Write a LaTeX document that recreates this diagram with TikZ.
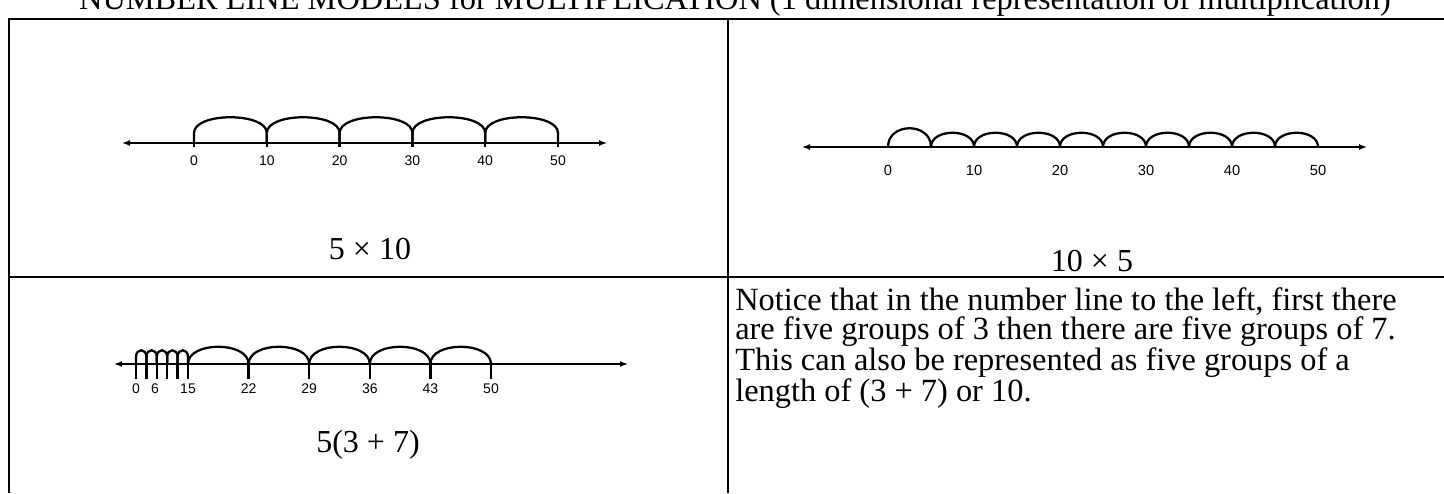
\documentclass[tikz,border=0pt]{standalone}
\usepackage{fontspec}
\setmainfont{Liberation Serif}
\newfontfamily\labelfont{Liberation Sans}
\usetikzlibrary{arrows.meta, calc}
\tikzset{
	rule/.style={line width=1.6pt},
	axis/.style={{Latex[length=6pt,width=4.5pt]}-{Latex[length=6pt,width=4.5pt]}, line width=1.1pt},
	hop/.style={line width=1.7pt},
	ticklabel/.style={font=\labelfont\fontsize{10.5}{12}\selectfont, inner sep=0pt},
	bigticklabel/.style={font=\labelfont\fontsize{11}{13}\selectfont, inner sep=0pt},
	caption/.style={font=\fontsize{24}{28}\selectfont, inner sep=0pt},
	note/.style={font=\fontsize{24.3}{21.9}\selectfont, align=left, inner sep=0pt},
}
\begin{document}
\begin{tikzpicture}[x=0.75pt, y=-0.75pt]
		\useasboundingbox (0,0) rectangle (1444,493);
		\node[caption, font=\fontsize{24.3}{28}\selectfont, anchor=base] (title) at (735,9) {NUMBER LINE MODELS for MULTIPLICATION (1 dimensional representation of multiplication)};
		\draw[rule] (8,19) -- (1444,19);
		\draw[rule] (9,19) -- (9,493);
		\draw[rule] (728,19) -- (728,493);
		\draw[rule] (9,277) -- (1444,277);
		\foreach \n [count=\i from 0] in {0,10,20,30,40,50} {
			\coordinate (a\i) at ({194+72.8*\i},143);
			\node[ticklabel] (a\i-lab) at ({194+72.8*\i},161) {\n};
		}
		\draw[axis] (122,143) -- (607,143);
		\foreach \i in {0,...,5} \draw[hop] (a\i) -- ++(0,4);
		\foreach \i [evaluate=\i as \j using {int(\i+1)}] in {0,...,4}
			\draw[hop] (a\i) -- ++(0,-10) .. controls +(0,-21) and +(0,-21) .. ($(a\j)+(0,-10)$) -- (a\j);
		\node[caption] (fivetens) at (370,249) {5 × 10};
		\foreach \i in {0,...,10} \coordinate (b\i) at ({888+43*\i},147);
		\draw[axis] (802,147) -- (1367,147);
		\draw[hop] (b0) .. controls +(0,-25) and +(0,-25) .. (b1);
		\foreach \i [evaluate=\i as \j using {int(\i+1)}] in {1,...,9}
			\draw[hop] (b\i) .. controls +(0,-19) and +(0,-19) .. (b\j);
		\foreach \n [count=\k from 0] in {0,10,...,50}
			\node[bigticklabel] (b\k-lab) at ({888+86*\k},170) {\n};
		\node[caption] (tenfives) at (1092,261) {10 × 5};
		\foreach \i in {0,...,5} \coordinate (c\i) at ({136+10.4*\i},364);
		\foreach \k in {0,...,5} \coordinate (d\k) at ({188+60.6*\k},364);
		\draw[axis] (114,364) -- (628,364);
		\foreach \i in {0,...,5} \draw[hop] (c\i) -- ++(0,15) (d\i) -- ++(0,15);
		\foreach \i [evaluate=\i as \j using {int(\i+1)}] in {0,...,4}
			\draw[hop] (c\i) -- ++(0,-7) .. controls +(0,-9) and +(0,-9) .. ($(c\j)+(0,-7)$) -- (c\j);
		\foreach \k [evaluate=\k as \l using {int(\k+1)}] in {0,...,4}
			\draw[hop] (d\k) .. controls +(0,-23) and +(0,-23) .. (d\l);
		\node[ticklabel] (c0-lab) at (136,389) {0};
		\node[ticklabel] (c2-lab) at (155,389) {6};
		\foreach \n [count=\k from 0] in {15,22,29,36,43,50}
			\node[ticklabel] (d\k-lab) at ({188+60.6*\k},389) {\n};
		\node[caption] (split) at (368,445) {5(3 + 7)};
		\node[note, anchor=north west] (notice) at (735,287) {Notice that in the number line to the left, first there\\are five groups of 3 then there are five groups of 7.\\This can also be represented as five groups of a\\length of (3 + 7) or 10.};
	\end{tikzpicture}
\end{document}
